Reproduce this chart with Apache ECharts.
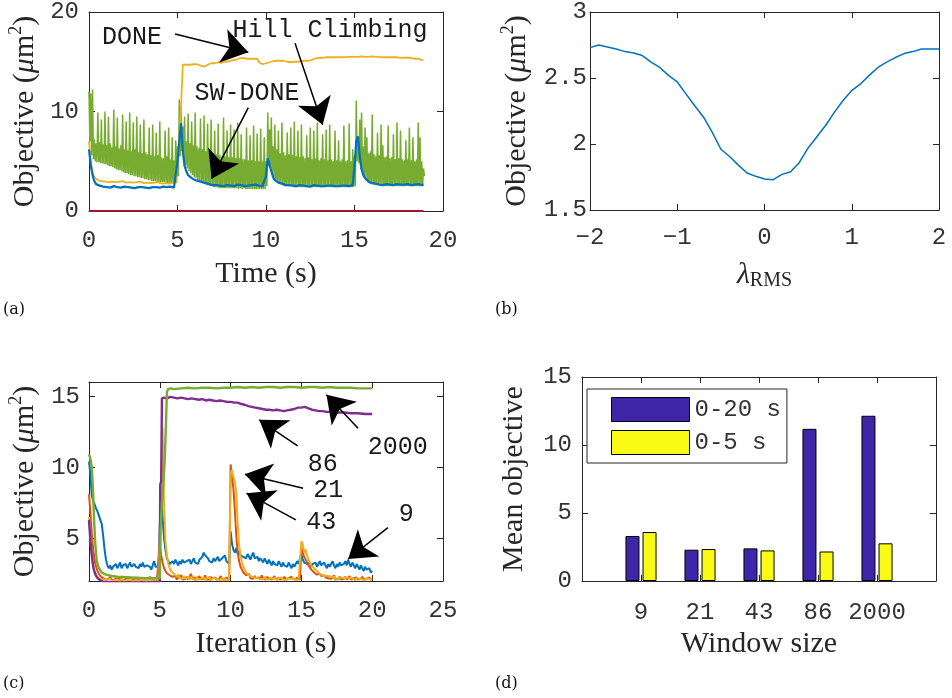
<!DOCTYPE html>
<html><head><meta charset="utf-8">
<script src="https://cdn.jsdelivr.net/npm/echarts@6/dist/echarts.min.js"></script>
<style>html,body{margin:0;padding:0;background:#fff}#c{width:952px;height:698px}</style>
</head><body><div id="c"></div>
<script>
// ---------- Panel (a): objective vs time, sampled every dtA seconds ----------
const dtA = 0.1;
const doneA = [
7.0,5.0,3.9,3.4,3.2,3.1,3.05,3.0,3.1,2.95,
3.0,2.9,3.05,2.95,3.0,2.9,3.05,2.95,2.9,3.0,
2.95,2.85,3.0,2.9,2.95,2.85,3.0,2.9,2.85,2.95,
2.9,2.8,2.95,2.85,2.9,2.8,2.95,2.85,2.8,2.9,
2.85,2.75,2.9,2.8,2.85,2.75,2.9,2.8,2.75,2.85,
3.0,7.0,10.5,14.7,14.8,14.7,14.75,14.7,14.8,14.75,
14.7,14.75,14.65,14.6,14.55,14.5,14.6,14.7,14.8,14.85,
14.9,14.85,14.9,14.95,15.0,14.9,14.95,15.0,15.1,15.05,
15.1,15.15,15.1,15.2,15.25,15.35,15.3,15.4,15.35,15.3,
15.25,15.3,15.25,15.3,15.35,15.3,14.95,14.8,14.75,14.8,
14.85,14.9,14.95,15.0,15.05,15.05,15.1,15.05,15.1,15.15,
15.1,15.05,15.0,15.0,14.95,15.0,15.0,15.05,15.0,15.05,
15.05,15.1,15.1,15.05,15.1,15.15,15.2,15.3,15.35,15.35,
15.4,15.35,15.4,15.4,15.45,15.4,15.45,15.4,15.45,15.5,
15.45,15.5,15.45,15.5,15.45,15.5,15.5,15.45,15.5,15.55,
15.5,15.55,15.5,15.5,15.55,15.5,15.5,15.45,15.5,15.5,
15.55,15.5,15.5,15.45,15.5,15.5,15.45,15.5,15.45,15.4,
15.45,15.4,15.45,15.4,15.45,15.4,15.4,15.45,15.4,15.4,
15.4,15.35,15.4,15.35,15.3,15.35,15.3,15.25,15.2,15.15];
const swDoneA = [
6.2,4.6,3.6,3.0,2.7,2.6,2.55,2.5,2.45,2.5,
2.4,2.45,2.35,2.4,2.5,2.35,2.4,2.45,2.35,2.4,
2.45,2.35,2.4,2.5,2.35,2.4,2.3,2.45,2.4,2.35,
2.4,2.45,2.35,2.4,2.3,2.45,2.4,2.35,2.4,2.45,
2.35,2.4,2.45,2.3,2.4,2.35,2.45,2.4,2.35,2.4,
5.0,7.0,8.8,6.0,4.5,4.0,3.6,3.4,3.3,3.2,
3.1,3.05,3.0,2.95,2.9,2.85,2.8,2.75,2.7,2.65,
2.6,2.55,2.6,2.5,2.55,2.65,2.5,2.55,2.6,2.5,
2.55,2.6,2.5,2.55,2.65,2.5,2.6,2.55,2.5,2.6,
2.55,2.5,2.6,2.55,2.65,2.5,2.55,2.6,2.5,2.55,
3.5,5.3,5.5,4.0,3.4,3.1,2.95,2.85,2.8,2.75,
2.7,2.6,2.55,2.6,2.5,2.55,2.6,2.5,2.55,2.6,
2.5,2.55,2.6,2.5,2.55,2.45,2.55,2.6,2.5,2.55,
2.6,2.5,2.55,2.5,2.6,2.55,2.5,2.55,2.6,2.5,
2.55,2.5,2.6,2.55,2.5,2.55,2.6,2.5,2.55,2.6,
4.5,7.0,7.5,5.5,4.2,3.6,3.3,3.1,2.95,2.85,
2.8,2.75,2.75,2.7,2.65,2.7,2.6,2.65,2.7,2.6,
2.65,2.7,2.6,2.65,2.7,2.6,2.65,2.7,2.65,2.6,
2.7,2.65,2.6,2.7,2.65,2.6,2.7,2.65,2.6,2.65];
// Hill climbing, sampled every dtA/2 seconds
const hillA = [
12.0,7.0, 11.8,5.6, 12.2,5.2, 7.2,5.0, 6.8,4.9, 9.9,4.9, 6.9,4.8, 9.2,4.8, 6.7,4.7, 10.0,4.7,
6.6,4.6, 9.5,4.5, 6.8,4.5, 6.4,4.4, 10.2,4.3, 6.5,4.2, 9.4,4.1, 6.3,4.1, 6.6,4.0, 9.7,3.9,
6.2,3.8, 9.0,3.8, 6.1,3.7, 9.9,3.6, 6.0,3.6, 8.9,3.5, 6.2,3.5, 9.5,3.4, 5.9,3.4, 8.7,3.3,
5.8,3.3, 9.2,3.2, 5.9,3.2, 5.7,3.1, 8.4,3.1, 5.6,3.0, 8.7,3.0, 5.5,3.0, 7.9,2.9, 5.6,2.9,
9.0,2.9, 5.4,2.9, 5.3,2.9, 8.1,2.8, 5.5,2.8, 8.4,2.8, 5.2,2.8, 7.4,2.8, 5.1,2.8, 7.1,2.8,
6.5,3.5, 11.2,5.5, 10.5,6.0, 8.5,5.0, 9.5,4.6, 7.0,4.3, 9.8,4.0, 6.8,3.8, 9.0,3.6, 6.6,3.4,
9.9,3.3, 6.5,3.1, 6.3,3.0, 9.3,2.9, 6.2,2.8, 9.6,2.7, 6.0,2.6, 8.8,2.6, 5.9,2.5, 9.2,2.5,
5.8,2.4, 8.1,2.4, 5.7,2.4, 8.8,2.3, 5.6,2.3, 5.5,2.3, 9.4,2.3, 5.5,2.3, 8.1,2.3, 5.4,2.3,
8.7,2.3, 5.4,2.3, 8.2,2.3, 5.3,2.3, 8.9,2.2, 5.3,2.3, 7.7,2.2, 5.2,2.3, 5.2,2.2, 8.4,2.2,
5.1,2.2, 7.6,2.2, 5.1,2.2, 8.6,2.2, 5.0,2.2, 7.8,2.2, 5.0,2.2, 8.3,2.2, 5.0,2.2, 7.4,2.2,
5.0,2.5, 9.9,4.5, 8.2,4.3, 9.4,3.8, 6.5,3.4, 8.7,3.1, 6.2,2.9, 8.1,2.8, 5.8,2.7, 8.9,2.6,
5.9,2.6, 5.6,2.5, 7.9,2.5, 5.7,2.5, 8.4,2.5, 5.6,2.4, 9.0,2.4, 5.5,2.4, 8.1,2.4, 5.4,2.4,
8.7,2.4, 5.5,2.4, 5.3,2.4, 7.6,2.4, 5.4,2.4, 8.4,2.4, 5.2,2.4, 8.1,2.4, 5.3,2.4, 8.9,2.4,
5.1,2.4, 5.3,2.4, 7.7,2.4, 5.2,2.4, 8.2,2.4, 5.1,2.4, 8.7,2.4, 5.2,2.4, 5.0,2.4, 8.1,2.4,
5.1,2.4, 7.1,2.4, 5.0,2.4, 5.2,2.4, 8.6,2.4, 5.0,2.4, 5.1,2.4, 8.8,2.4, 5.0,2.4, 6.2,2.4,
5.5,2.5, 11.1,5.0, 7.0,4.8, 9.2,4.2, 9.9,3.8, 6.5,3.4, 8.4,3.1, 7.4,2.9, 5.8,2.8, 6.0,2.7,
9.7,2.7, 5.7,2.6, 5.5,2.6, 7.9,2.6, 5.6,2.6, 8.7,2.6, 6.6,2.5, 5.4,2.5, 5.5,2.5, 8.6,2.5,
5.3,2.5, 5.4,2.5, 7.7,2.5, 5.2,2.5, 8.9,2.5, 5.3,2.5, 8.1,2.5, 5.2,2.5, 5.1,2.5, 7.1,2.5,
5.2,2.5, 8.4,2.5, 5.1,2.5, 7.4,2.5, 5.0,2.5, 5.2,2.5, 8.9,2.5, 7.4,2.5, 5.0,2.6, 4.3,3.5];
const zeroTimes = [0, 18.9];
const zeroValues = [0, 0];
const arrowsA = [[4.86,17.78, 9.0,15.95], [11.64,16.85, 13.2,8.66], [9.0,10.38, 6.93,3.25]];
const labelsA = [['DONE',2.43,17.41], ['Hill Climbing',13.62,18.11], ['SW-DONE',8.93,11.79]];

// ---------- Panel (b) ----------
const lambdaB = [-2,-1.9,-1.8,-1.7,-1.6,-1.5,-1.4,-1.3,-1.2,-1.1,-1,-0.9,-0.8,-0.7,-0.6,-0.5,-0.4,-0.3,-0.2,-0.1,0,
0.1,0.2,0.3,0.4,0.5,0.6,0.7,0.8,0.9,1,1.1,1.2,1.3,1.4,1.5,1.6,1.7,1.8,1.9,2];
const objB = [2.73,2.75,2.735,2.72,2.70,2.69,2.67,2.62,2.58,2.52,2.47,2.38,2.29,2.205,2.09,1.96,1.905,1.84,1.78,1.755,1.735,
1.73,1.77,1.79,1.86,1.97,2.055,2.14,2.24,2.33,2.405,2.455,2.52,2.58,2.62,2.655,2.685,2.70,2.72,2.72,2.72];

// ---------- Panel (c): window sizes, sampled every dtC seconds ----------
const dtC = 0.1;
const win9 = [
10.4,9.5,8.0,7.6,7.4,7.1,6.9,6.6,6.3,6.0,
5.2,4.2,3.5,3.1,2.9,3.1,2.8,3.0,2.9,3.2,
2.9,3.0,3.3,2.9,3.1,3.0,3.2,2.9,3.1,3.3,
3.0,2.9,3.2,3.0,3.1,2.9,3.2,3.0,3.3,3.0,
2.9,3.1,3.2,3.0,2.8,3.1,3.4,3.0,2.9,3.0,
6.0,8.5,6.5,5.0,4.2,3.6,3.4,3.2,3.3,3.4,
3.2,3.5,3.3,3.1,3.4,3.2,3.5,3.3,3.2,3.4,
3.3,3.5,3.2,3.4,3.6,3.3,3.4,3.2,3.5,3.6,
3.7,4.0,3.8,3.9,3.6,3.4,3.5,3.3,3.6,3.4,
3.5,3.7,3.4,3.3,3.6,3.5,3.8,3.4,3.3,3.2,
5.5,4.6,4.2,4.0,4.3,3.9,4.1,3.8,3.9,3.7,
3.8,3.6,3.9,3.7,3.5,3.8,4.0,3.6,3.5,3.7,
3.4,3.6,3.5,3.3,3.6,3.4,3.2,3.5,3.3,3.1,
3.4,3.2,3.3,3.1,3.4,3.2,3.0,3.3,3.1,3.2,
3.0,3.3,3.1,2.9,3.2,3.0,3.1,3.4,3.2,3.6,
3.9,3.5,3.3,3.4,3.2,3.1,3.3,3.0,3.2,3.1,
3.3,3.0,3.2,3.4,3.1,3.0,3.3,3.1,2.9,3.2,
3.0,3.2,3.4,3.1,2.9,3.2,3.0,3.3,3.1,3.0,
3.2,3.4,3.1,3.5,3.2,3.0,3.3,3.1,2.9,3.2,
3.0,2.8,3.1,2.9,2.7,3.0,2.8,2.7,2.9,2.6,
2.7];
const win21 = [
8.1,6.8,5.3,4.2,3.4,3.0,2.7,2.5,2.35,2.3,
2.2,2.25,2.1,2.2,2.15,2.3,2.1,2.2,2.05,2.2,
2.15,2.1,2.25,2.1,2.2,2.05,2.15,2.3,2.1,2.2,
2.1,2.2,2.05,2.15,2.25,2.1,2.2,2.1,2.15,2.05,
2.2,2.1,2.15,2.3,2.1,2.05,2.2,2.1,2.15,2.1,
4.5,3.8,3.3,2.9,2.7,2.55,2.45,2.4,2.3,2.3,
2.2,2.35,2.1,2.25,2.15,2.4,2.1,2.2,2.15,2.3,
2.1,2.2,2.5,2.15,2.1,2.25,2.1,2.2,2.35,2.1,
2.2,2.15,2.4,2.1,2.2,2.1,2.3,2.15,2.1,2.25,
2.1,2.2,2.15,2.35,2.1,2.2,2.1,2.25,2.15,2.1,
10.2,9.3,8.5,7.0,5.2,4.0,3.4,3.0,2.8,2.6,
2.5,2.4,2.3,2.5,2.2,2.3,2.15,2.35,2.2,2.1,
2.25,2.1,2.4,2.15,2.2,2.1,2.3,2.15,2.2,2.1,
2.2,2.35,2.1,2.15,2.25,2.1,2.2,2.15,2.3,2.1,
2.15,2.2,2.1,2.3,2.15,2.2,2.1,2.25,2.15,2.1,
4.4,4.0,3.7,3.5,3.3,3.1,3.0,2.8,2.7,2.6,
2.5,2.45,2.4,2.5,2.35,2.3,2.4,2.25,2.3,2.2,
2.3,2.15,2.25,2.4,2.1,2.2,2.15,2.3,2.1,2.2,
2.15,2.3,2.1,2.2,2.35,2.1,2.15,2.2,2.1,2.25,
2.1,2.2,2.15,2.3,2.1,2.2,2.15,2.1,2.25,2.1,
2.15];
const win43 = [
6.5,5.0,3.8,3.0,2.6,2.4,2.3,2.2,2.15,2.1,
2.05,2.1,2.0,2.1,2.05,2.15,2.0,2.1,2.05,2.0,
2.1,2.05,2.0,2.15,2.05,2.0,2.1,2.05,2.0,2.1,
2.05,2.0,2.1,2.05,2.15,2.0,2.05,2.1,2.0,2.05,
2.1,2.0,2.05,2.1,2.0,2.05,2.15,2.0,2.05,2.1,
5.5,9.0,12.8,7.5,4.8,3.8,3.2,2.9,2.7,2.6,
2.5,2.4,2.3,2.45,2.2,2.3,2.15,2.35,2.2,2.1,
2.25,2.1,2.3,2.15,2.2,2.05,2.3,2.1,2.2,2.15,
2.1,2.25,2.05,2.2,2.1,2.3,2.05,2.15,2.2,2.1,
2.2,2.05,2.15,2.1,2.25,2.05,2.15,2.1,2.2,2.05,
9.6,9.8,9.3,9.0,8.2,6.0,4.5,3.8,3.3,3.0,
2.8,2.6,2.5,2.4,2.5,2.3,2.4,2.25,2.35,2.2,
2.3,2.15,2.25,2.1,2.3,2.15,2.2,2.1,2.25,2.15,
2.1,2.25,2.15,2.05,2.2,2.1,2.25,2.1,2.15,2.05,
2.2,2.1,2.15,2.05,2.2,2.1,2.05,2.15,2.1,2.05,
4.8,4.6,4.0,4.2,3.8,3.5,3.3,3.1,3.0,2.9,
2.8,2.7,2.6,2.5,2.55,2.4,2.45,2.35,2.3,2.35,
2.25,2.3,2.2,2.3,2.15,2.25,2.2,2.1,2.25,2.15,
2.2,2.1,2.25,2.15,2.2,2.1,2.2,2.15,2.05,2.2,
2.1,2.15,2.2,2.1,2.15,2.05,2.2,2.1,2.15,2.1,
2.1];
const win86 = [[0,6.3],[0.1,4.8],[0.2,3.8],[0.3,3.0],[0.4,2.6],[0.5,2.35],[0.6,2.2],[0.8,2.05],[1.0,1.95],[2,1.9],[3,1.9],[4,1.9],
[5.0,1.95],[5.03,8.8],[5.1,9.0],[5.15,14.85],[5.3,14.9],[5.5,14.85],[5.75,14.95],[6,14.9],[6.25,14.85],[6.5,14.9],[6.75,14.85],
[7,14.8],[7.25,14.85],[7.5,14.8],[7.75,14.75],[8,14.8],[8.25,14.7],[8.5,14.75],[8.75,14.7],[9,14.65],[9.25,14.7],[9.5,14.65],
[9.75,14.6],[10,14.6],[10.25,14.55],[10.5,14.55],[10.75,14.45],[11,14.4],[11.25,14.3],[11.5,14.25],[11.75,14.2],[12,14.15],
[12.25,14.1],[12.5,14.05],[12.75,14.05],[13,14.0],[13.25,14.05],[13.5,14.0],[13.75,13.95],[14,14.0],[14.25,14.05],[14.5,14.1],
[14.75,14.2],[15,14.2],[15.25,14.25],[15.5,14.15],[15.75,14.05],[16,14.0],[16.25,13.95],[16.5,13.95],[16.75,13.9],[17,13.9],
[17.5,13.85],[18,13.85],[18.5,13.8],[19,13.8],[19.5,13.75],[20,13.75]];
const win2000 = [[0,10.9],[0.1,10.6],[0.2,10.0],[0.3,8.0],[0.35,6.5],[0.45,4.5],[0.55,3.4],[0.7,2.9],[0.9,2.6],[1.2,2.45],
[1.6,2.35],[2,2.3],[3,2.25],[4,2.2],[5,2.2],[5.05,5.5],[5.15,7.5],[5.25,8.8],[5.35,10.5],[5.45,13.5],[5.5,15.3],[5.6,15.5],
[5.75,15.55],[6,15.5],[6.5,15.55],[7,15.6],[7.5,15.55],[8,15.6],[8.5,15.6],[9,15.55],[9.5,15.6],[10,15.6],[10.5,15.65],
[11,15.6],[11.5,15.65],[12,15.6],[12.5,15.65],[13,15.65],[13.5,15.6],[14,15.65],[14.5,15.65],[15,15.6],[15.5,15.65],
[16,15.65],[16.5,15.6],[17,15.65],[17.5,15.6],[18,15.6],[18.5,15.6],[19,15.55],[19.5,15.55],[20,15.55]];
const arrowsC = [[19.0,12.75,16.77,15.1],[14.73,11.5,12.02,13.34],[15.12,8.53,11.01,9.51],[14.61,6.30,11.13,8.18],[21.11,5.75,18.3,3.55]];
const labelsC = [['2000',21.8,11.37],['86',16.5,10.17],['21',16.9,8.41],['43',16.41,6.15],['9',22.4,6.72]];

// ---------- Panel (d) ----------
const windowSizes = ['9','21','43','86','2000'];
const mean0to20 = [3.31, 2.30, 2.40, 11.19, 12.15];
const mean0to5 = [3.60, 2.35, 2.25, 2.17, 2.77];

// ---------- chart ----------
const AX = '#262626', TXT = '#262626';
const MONO = 'Liberation Mono', SERIF = 'Liberation Serif';
const richStyles = (lh) => ({
  n:{fontFamily:SERIF,fontSize:30,color:TXT,lineHeight:lh},
  i:{fontFamily:SERIF,fontSize:30,fontStyle:'italic',color:TXT,lineHeight:lh},
  s:{fontFamily:SERIF,fontSize:18,color:TXT,verticalAlign:'top',lineHeight:18},
  b:{fontFamily:SERIF,fontSize:20,color:TXT,verticalAlign:'bottom',lineHeight:20}
});
const objName = '{n|Objective (}{i|μ}{n|m}{s|2}{n|)}';

function axis(gridIndex, position, o, mirror) {
  const a = {
    type:'value', gridIndex, position, min:o.min, max:o.max,
    axisLine:{show:true, onZero:false, lineStyle:{color:AX, width:1}},
    axisTick:{show:true, inside:true, length:6, lineStyle:{color:AX, width:1}},
    splitLine:{show:false},
    axisLabel:{show:!mirror, fontFamily:MONO, fontSize:24, color:'#333', margin:o.margin || 10},
    nameMoveOverlap:false
  };
  if (o.fmt) a.axisLabel.formatter = o.fmt;
  if (o.interval != null) a.interval = o.interval;
  if (o.custom) { a.axisTick.customValues = o.custom; a.axisLabel.customValues = o.custom; }
  if (!mirror && o.name) {
    a.name = o.name; a.nameLocation = 'middle'; a.nameGap = o.nameGap;
    a.nameTextStyle = {fontFamily:SERIF, fontSize:30, color:TXT, rich:richStyles(o.lh || 36)};
  }
  return a;
}
const xOpts = [
  {min:0,max:20,interval:5,margin:18,name:'{n|Time (s)}',nameGap:45},
  {min:-2,max:2,interval:1,margin:16,name:'{i|λ}{b|RMS}',nameGap:49,lh:32,fmt:v => v < 0 ? '\u2212' + (-v) : String(v)},
  {min:0,max:25,interval:5,margin:18,name:'{n|Iteration (s)}',nameGap:45},
  {min:0,max:6,custom:[1,2,3,4,5],margin:20,name:'{n|Window size}',nameGap:45,fmt:v => windowSizes[v-1] || ''}
];
const yOpts = [
  {min:0,max:20,interval:10,margin:10,name:objName,nameGap:46},
  {min:1.5,max:3,interval:0.5,margin:3,name:objName,nameGap:55},
  {min:2,max:16,custom:[5,10,15],margin:9,name:objName,nameGap:46},
  {min:0,max:15,interval:5,margin:10,name:'{n|Mean objective}',nameGap:50}
];
const xAxes = [], yAxes = [];
for (let g = 0; g < 4; g++) { xAxes.push(axis(g,'bottom',xOpts[g],false)); yAxes.push(axis(g,'left',yOpts[g],false)); }
for (let g = 0; g < 4; g++) { xAxes.push(axis(g,'top',xOpts[g],true)); yAxes.push(axis(g,'right',yOpts[g],true)); }

const seq = (arr, dt) => arr.map((v,i) => [Math.round(i*dt*1000)/1000, v]);
function line(g, data, color, width, extra) {
  return Object.assign({type:'line', xAxisIndex:g, yAxisIndex:g, data, showSymbol:false, symbol:'none',
    lineStyle:{color, width}, itemStyle:{color}, emphasis:{disabled:true}, silent:true}, extra || {});
}
function arrowMarks(arrows, labels) {
  return {
    markLine:{silent:true, symbol:['none','arrow'], symbolSize:26, animation:false,
      label:{show:false}, lineStyle:{color:'#000', width:1.5, type:'solid'}, itemStyle:{color:'#000'},
      emphasis:{disabled:true},
      data: arrows.map(a => [{coord:[a[0],a[1]]},{coord:[a[2],a[3]]}])},
    markPoint:{silent:true, symbol:'rect', symbolSize:0, animation:false,
      label:{show:true, position:'inside', formatter:'{b}', fontFamily:MONO, fontSize:25, color:'#1a1a1a'},
      data: labels.map(l => ({name:l[0], coord:[l[1], l[2]], value:0}))}
  };
}

const series = [
  line(0, seq(hillA, dtA/2), '#77AC30', 1.5),
  line(0, seq(doneA, dtA), '#EDB120', 1.8),
  line(0, seq(swDoneA, dtA), '#0072BD', 2.2),
  line(0, zeroTimes.map((t,i) => [t, zeroValues[i]]), '#A2142F', 2, arrowMarks(arrowsA, labelsA)),
  line(1, lambdaB.map((x,i) => [x, objB[i]]), '#0072BD', 1.5),
  line(2, seq(win9, dtC), '#0072BD', 2),
  line(2, seq(win21, dtC), '#D95319', 2),
  line(2, seq(win43, dtC), '#EDB120', 2),
  line(2, win86, '#7E2F8E', 2.4),
  line(2, win2000, '#77AC30', 2.4, arrowMarks(arrowsC, labelsC)),
  {type:'bar', name:'0-20 s', xAxisIndex:3, yAxisIndex:3, data: mean0to20.map((v,i) => [i+1, v]),
   barWidth:14, barGap:'22%', itemStyle:{color:'#3E26A8', borderColor:'#000', borderWidth:1}, silent:true},
  {type:'bar', name:'0-5 s', xAxisIndex:3, yAxisIndex:3, data: mean0to5.map((v,i) => [i+1, v]),
   barWidth:14, barGap:'22%', itemStyle:{color:'#F9FB15', borderColor:'#000', borderWidth:1}, silent:true}
];

const panelLabel = (t, x, y) => ({type:'text', left:x, top:y, style:{text:t, fontFamily:'DejaVu Serif', fontSize:16, fill:'#111'}});

const chart = echarts.init(document.getElementById('c'), null, {renderer:'canvas'});
chart.setOption({
  animation:false,
  backgroundColor:'#fff',
  grid:[
    {left:89, top:10, width:354, height:201},
    {left:590, top:11, width:349, height:199},
    {left:89, top:382, width:354, height:199},
    {left:582, top:377, width:354, height:204}
  ],
  xAxis:xAxes, yAxis:yAxes,
  legend:{data:['0-20 s','0-5 s'], left:587, top:389, orient:'vertical', padding:[8,6,8,24], itemGap:8,
    itemWidth:78, itemHeight:24, icon:'rect', borderColor:AX, borderWidth:1, backgroundColor:'#fff', borderRadius:0,
    selectedMode:false, textStyle:{fontFamily:MONO, fontSize:24, color:'#333'},
    itemStyle:{borderColor:'#000', borderWidth:1}},
  series,
  graphic:[panelLabel('(a)',3,302), panelLabel('(b)',495,302), panelLabel('(c)',3,676), panelLabel('(d)',495,676)]
});
</script></body></html>
